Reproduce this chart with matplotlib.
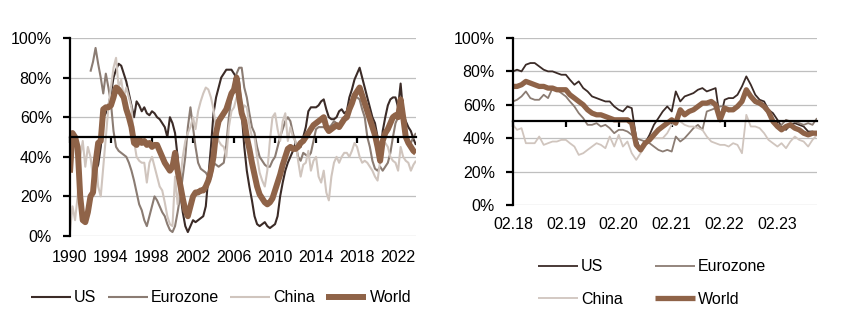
import numpy as np
import pandas as pd
import matplotlib
matplotlib.use("Agg")
import matplotlib.pyplot as plt
import matplotlib.dates as mdates
from matplotlib.ticker import FuncFormatter

plt.rcParams.update({
    "font.family": ["Liberation Sans", "DejaVu Sans"],
    "font.size": 11.5,
})

nan = np.nan

# ---- long history, quarterly (Jan/Apr/Jul/Oct), 1990 - 2023, in %
long_dates = pd.date_range("1990-01-01", periods=136, freq="QS")

us_long = [
    nan, nan, nan, nan,  nan, nan, nan, nan,  nan, nan, 33, 36,  45, 60, 62, 66,
    72, 80, 84, 87,  86, 82, 78, 72,  66, 60, 68, 66,  63, 65, 62, 61,
    63, 62, 60, 59,  57, 55, 50, 60,  57, 52, 40, 22,  12, 5, 2, 5,
    8, 7, 8, 9,  10, 15, 30, 45,  62, 70, 75, 80,  82, 84, 84, 84,
    82, 80, 78, 62,  45, 33, 25, 18,  10, 6, 5, 6,  7, 5, 4, 5,
    6, 10, 20, 27,  33, 37, 40, 43,  47, 46, 45, 50,  55, 63, 65, 65,
    65, 66, 68, 69,  64, 60, 59, 59,  60, 63, 64, 62,  63, 70, 74, 79,
    82, 85, 80, 75,  70, 65, 60, 57,  50, 37, 53, 60,  66, 69, 70, 70,
    65, 77, 62, 58,  55, 53, 49, 46,
]
ez_long = [
    nan, nan, nan, nan,  nan, nan, nan, nan,  83, 88, 95, 87,  80, 72, 82, 75,
    67, 53, 45, 43,  42, 41, 40, 37,  33, 28, 22, 16,  13, 8, 5, 10,
    15, 20, 18, 15,  12, 10, 6, 3,  2, 5, 12, 20,  30, 40, 55, 65,
    55, 45, 37, 34,  33, 32, 30, 29,  37, 36, 35, 36,  37, 46, 60, 70,
    74, 82, 85, 85,  75, 70, 62, 55,  52, 45, 40, 38,  36, 35, 35, 38,
    40, 45, 50, 54,  58, 60, 58, 52,  47, 40, 38, 42,  41, 40, 42, 48,
    54, 55, 55, 55,  56, 55, 56, 58,  57, 56, 58, 60,  62, 65, 68, 70,
    70, 69, 64, 60,  50, 45, 38, 34,  33, 35, 33, 35,  37, 42, 50, 57,
    60, 64, 56, 52,  48, 47, 50, 52,
]
china_long = [
    2, 15, 8, 20,  40, 48, 35, 45,  40, 30, 42, 25,  20, 35, 50, 65,
    75, 85, 90, 75,  79, 70, 75, 70,  65, 48, 40, 38,  37, 37, 27, 37,
    40, 35, 30, 25,  23, 17, 10, 6,  5, 30, 16, 28,  40, 48, 52, 55,
    60, 54, 63, 68,  72, 75, 74, 70,  64, 54, 48, 46,  45, 40, 55, 63,
    65, 70, 68, 62,  66, 65, 56, 50,  50, 40, 32, 28,  25, 33, 48, 60,
    62, 54, 48, 58,  62, 48, 55, 50,  48, 38, 30, 36,  37, 43, 33, 38,
    40, 30, 27, 33,  22, 18, 30, 37,  40, 37, 40, 42,  42, 40, 43, 47,
    45, 40, 37, 38,  37, 35, 33, 30,  28, 38, 46, 47,  45, 40, 38, 37,
    33, 45, 40, 38,  37, 33, 36, 38,
]
world_long = [
    32, 52, 50, 45,  20, 8, 7, 12,  20, 22, 37, 47,  48, 64, 65, 65,
    66, 70, 75, 74,  72, 70, 64, 60,  55, 47, 46, 49,  47, 48, 46, 47,
    45, 46, 46, 43,  40, 37, 35, 33,  35, 42, 33, 26,  19, 13, 10, 15,
    20, 22, 22, 23,  23, 25, 28, 33,  40, 52, 58, 60,  62, 64, 68, 72,
    74, 80, 70, 62,  58, 50, 44, 37,  31, 25, 21, 19,  17, 16, 17, 19,
    23, 27, 31, 36,  40, 44, 45, 44,  44, 45, 47, 48,  50, 52, 54, 56,
    57, 58, 59, 60,  55, 53, 54, 55,  56, 55, 57, 59,  60, 64, 67, 71,
    73, 75, 71, 67,  63, 59, 55, 51,  45, 38, 48, 52,  54, 57, 60, 61,
    60, 69, 60, 50,  47, 45, 43, 42,
]
long_ticks = pd.date_range("1990-01-01", "2022-01-01", freq="4YS")
long_tick_labels = [d.strftime("%Y") for d in long_ticks]

# ---- recent, monthly, Feb 2018 - Nov 2023, in %
short_dates = pd.date_range("2018-02-01", periods=70, freq="MS")

us_short = [
    80, 81, 80, 84, 85, 85, 83, 81, 80, 80, 79, 78,
    78, 75, 72, 74, 70, 68, 65, 64, 63, 62, 62, 59,
    57, 56, 59, 58, 40, 32, 37, 42, 48, 52, 56, 59,
    56, 68, 62, 65, 66, 67, 69, 70, 68, 69, 70, 51,
    63, 64, 64, 66, 71, 77, 72, 66, 63, 62, 57, 55,
    51, 47, 45, 48, 49, 48, 47, 44, 44, 43,
]
ez_short = [
    62, 63, 65, 68, 64, 63, 63, 66, 64, 70, 69, 67,
    65, 62, 59, 55, 52, 48, 48, 49, 47, 48, 46, 43,
    45, 45, 44, 42, 40, 39, 38, 37, 35, 33, 32, 33,
    32, 41, 38, 40, 43, 46, 48, 45, 56, 57, 58, 59,
    59, 56, 58, 60, 62, 69, 66, 61, 60, 59, 54, 50,
    46, 48, 51, 50, 50, 49, 48, 49, 48, 52,
]
china_short = [
    48, 45, 46, 37, 37, 37, 41, 36, 37, 38, 38, 39,
    39, 37, 35, 30, 31, 33, 35, 37, 36, 34, 41, 35,
    42, 35, 38, 31, 27, 31, 35, 39, 40, 40, 40, 43,
    48, 51, 50, 48, 47, 47, 46, 45, 41, 38, 37, 36,
    36, 35, 37, 36, 31, 54, 47, 47, 46, 43, 39, 37,
    35, 37, 34, 38, 41, 39, 38, 35, 39, 42,
]
world_short = [
    71, 71, 72, 74, 73, 72, 71, 71, 70, 70, 69, 69,
    69, 66, 64, 62, 60, 57, 55, 54, 54, 53, 52, 51,
    51, 51, 51, 49, 36, 33, 37, 39, 42, 45, 47, 49,
    51, 49, 57, 54, 56, 57, 59, 61, 61, 62, 60, 51,
    58, 57, 57, 59, 62, 69, 65, 62, 61, 59, 56, 50,
    47, 45, 47, 48, 46, 45, 43, 42, 43, 43,
]
short_ticks = pd.date_range("2018-02-01", "2023-02-01", freq="12MS")
short_tick_labels = [d.strftime("%m.%y") for d in short_ticks]

names = ["US", "Eurozone", "China", "World"]
colors = ["#3b2b27", "#8b7c73", "#d0c5be", "#8f6348"]


def style_axis(ax, ticks, labels, label_pad):
    ax.set_ylim(0, 100)
    ax.set_yticks(range(0, 101, 20))
    ax.yaxis.set_major_formatter(FuncFormatter(lambda v, p: f"{v:.0f}%"))
    ax.grid(axis="y", color="#bfbfbf", lw=0.9)
    ax.set_axisbelow(True)
    ax.spines["top"].set_visible(False)
    ax.spines["right"].set_visible(False)
    ax.spines["left"].set_linewidth(1.6)
    ax.spines["bottom"].set_position(("data", 50))
    ax.spines["bottom"].set_linewidth(1.6)
    ax.spines["bottom"].set_zorder(3)
    tick_pos = mdates.date2num(ticks)
    ax.set_xticks(tick_pos)
    ax.tick_params(axis="x", direction="out", length=4.5, width=1.6, labelbottom=False)
    ax.tick_params(axis="y", direction="out", length=5, width=1.6, pad=8)
    sec = ax.secondary_xaxis("bottom")
    sec.set_xticks(tick_pos, labels)
    sec.spines["bottom"].set_visible(False)
    sec.tick_params(length=0, pad=label_pad)


fig = plt.figure(figsize=(8.44, 3.3), dpi=100)
ax_l = fig.add_axes([0.0829, 0.2848, 0.4100, 0.6000])
ax_r = fig.add_axes([0.6078, 0.3788, 0.3602, 0.5061])

# left chart
long_series = [us_long, ez_long, china_long, world_long]
long_widths = [1.5, 1.5, 1.5, 4.3]
lines_l = []
for name, vals, col, lw in zip(names, long_series, colors, long_widths):
    ln, = ax_l.plot(long_dates, vals, color=col, lw=lw, label=name,
                    solid_joinstyle="round", solid_capstyle="butt")
    lines_l.append(ln)
ax_l.set_xlim(long_dates[0], long_dates[-1])
style_axis(ax_l, long_ticks, long_tick_labels, 10)

# right chart
short_series = [us_short, ez_short, china_short, world_short]
short_widths = [1.3, 1.3, 1.3, 3.8]
lines_r = []
for name, vals, col, lw in zip(names, short_series, colors, short_widths):
    ln, = ax_r.plot(short_dates, vals, color=col, lw=lw, label=name,
                    solid_joinstyle="round", solid_capstyle="butt")
    lines_r.append(ln)
ax_r.set_xlim(short_dates[0], short_dates[-1])
style_axis(ax_r, short_ticks, short_tick_labels, 9)

ax_l.legend(handles=lines_l, loc="center", bbox_to_anchor=(0.262, 0.097),
            bbox_transform=fig.transFigure, ncol=4, frameon=False,
            handlelength=2.5, handletextpad=0.2, columnspacing=0.7,
            borderaxespad=0, borderpad=0)

order = [0, 2, 1, 3]
ax_r.legend(handles=[lines_r[i] for i in order], loc="center",
            bbox_to_anchor=(0.7725, 0.142), bbox_transform=fig.transFigure,
            ncol=2, frameon=False, handlelength=2.5, handletextpad=0.2,
            columnspacing=2.0, labelspacing=1.1, borderaxespad=0, borderpad=0)

fig.savefig("out.png", dpi=100)
